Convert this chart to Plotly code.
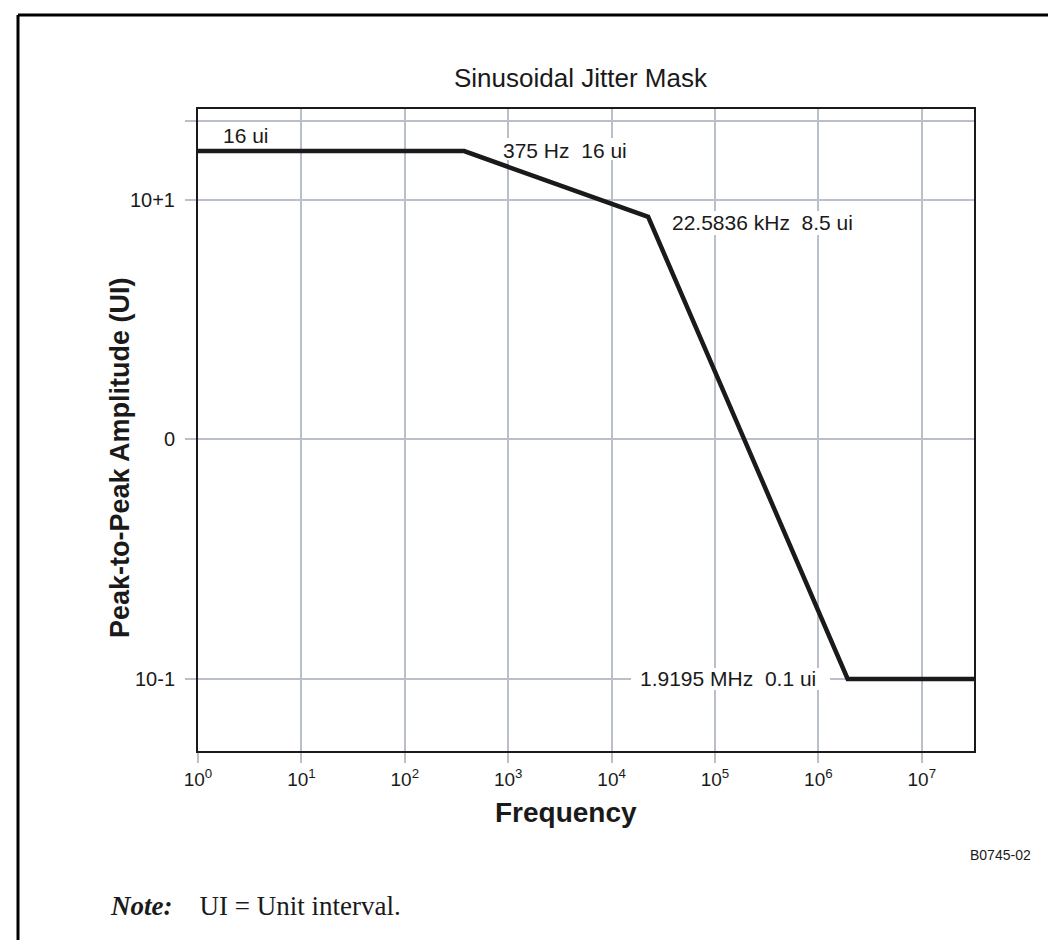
import math
import plotly.graph_objects as go

# ---- data ----
freq_hz = [1, 375, 22583.6, 1919500, 3.2e7]
amplitude_ui = [16, 16, 8.5, 0.1, 0.1]

x_tick_vals = [1, 10, 100, 1e3, 1e4, 1e5, 1e6, 1e7]
x_tick_text = ["10<sup>0</sup>", "10<sup>1</sup>", "10<sup>2</sup>", "10<sup>3</sup>",
               "10<sup>4</sup>", "10<sup>5</sup>", "10<sup>6</sup>", "10<sup>7</sup>"]
y_tick_vals = [0.1, 1, 10, 21.4]
y_tick_text = ["10-1", "0", "10+1", ""]

point_labels = ["16 ui", "375 Hz\u00a0\u00a016 ui", "22.5836 kHz\u00a0\u00a08.5 ui", "1.9195 MHz\u00a0\u00a00.1 ui"]
label_freq = [1, 375, 22583.6, 1919500]
label_amp = [16, 16, 8.5, 0.1]

FONT = "Liberation Sans, Arial, Helvetica, sans-serif"
GRID = "#b9c0c9"
INK = "#1a1a1a"

# plot-area geometry in pixels (used for page-level placements)
L, R, T, B = 190, 966, 101, 743
W, H = R - L, B - T


def px_x(px):
    return (px - L) / W


def px_y(py):
    return (B - py) / H


fig = go.Figure()
fig.add_trace(go.Scatter(
    x=freq_hz, y=amplitude_ui, mode="lines",
    line=dict(color=INK, width=4.5), hoverinfo="skip", showlegend=False,
))

# label placement: text offset (px) from its anchor point, and a white box
# (page pixels x0, x1, y0, y1) that masks the gridlines behind the text
ann_style = [
    dict(xanchor="left", xshift=23, yshift=16, box=None),
    dict(xanchor="left", xshift=37, yshift=1, box=(490, 624, 130, 152)),
    dict(xanchor="left", xshift=22, yshift=-6, box=(655, 853, 203, 227)),
    dict(xanchor="right", xshift=-30, yshift=0, box=(623, 822, 660, 682)),
]
for txt, fx, ay, st in zip(point_labels, label_freq, label_amp, ann_style):
    if st["box"]:
        bx0, bx1, by0, by1 = st["box"]
        fig.add_shape(type="rect", layer="above", xref="paper", yref="paper",
                      x0=px_x(bx0), x1=px_x(bx1), y0=px_y(by1), y1=px_y(by0),
                      fillcolor="white", line=dict(width=0))
    fig.add_annotation(
        x=math.log10(fx), y=math.log10(ay), xref="x", yref="y", text=txt, showarrow=False,
        font=dict(family=FONT, size=21, color=INK), xanchor=st["xanchor"], yanchor="middle",
        xshift=st["xshift"], yshift=st["yshift"],
    )

# titles and page texts
fig.add_annotation(text="Sinusoidal Jitter Mask", xref="paper", yref="paper",
                   x=px_x(573), y=px_y(70), xanchor="center", yanchor="middle",
                   showarrow=False, font=dict(family=FONT, size=26, color=INK))
fig.add_annotation(text="<b>Frequency</b>", xref="paper", yref="paper",
                   x=px_x(558), y=px_y(805), xanchor="center", yanchor="middle",
                   showarrow=False, font=dict(family=FONT, size=28, color=INK))
fig.add_annotation(text="<b>Peak-to-Peak Amplitude (UI)</b>", xref="paper", yref="paper",
                   x=px_x(112), y=px_y(450), textangle=-90, xanchor="center", yanchor="middle",
                   showarrow=False, font=dict(family=FONT, size=27, color=INK))
fig.add_annotation(text="B0745-02", xref="paper", yref="paper",
                   x=px_x(1025), y=px_y(847), xanchor="right", yanchor="middle",
                   showarrow=False, font=dict(family=FONT, size=14, color=INK))
fig.add_annotation(text="<b><i>Note:</i></b>\u00a0\u00a0\u00a0\u00a0UI = Unit interval.", xref="paper", yref="paper",
                   x=px_x(100), y=px_y(898), xanchor="left", yanchor="middle",
                   showarrow=False, font=dict(family="Liberation Serif, Times New Roman, serif", size=27, color=INK))

# page frame (top and left edges)
fig.add_shape(type="line", xref="paper", yref="paper", x0=px_x(10), x1=px_x(1060), y0=px_y(7), y1=px_y(7),
              line=dict(color="black", width=3))
fig.add_shape(type="line", xref="paper", yref="paper", x0=px_x(10), x1=px_x(10), y0=px_y(7), y1=px_y(945),
              line=dict(color="black", width=3))

fig.update_layout(
    width=1056, height=940,
    margin=dict(l=L, r=1056 - R, t=T, b=940 - B),
    paper_bgcolor="white", plot_bgcolor="white",
    font=dict(family=FONT, color=INK),
    showlegend=False,
)
fig.update_xaxes(
    type="log", range=[0, 7.505],
    tickvals=x_tick_vals, ticktext=x_tick_text,
    tickfont=dict(family=FONT, size=19, color=INK),
    showgrid=True, gridcolor=GRID, gridwidth=1.5,
    ticks="outside", ticklen=10, tickcolor=GRID, tickwidth=1.5,
    showline=True, mirror=True, linecolor=INK, linewidth=2,
    zeroline=False, fixedrange=True,
)
fig.update_yaxes(
    type="log", range=[-1.301, 1.380],
    tickvals=y_tick_vals, ticktext=y_tick_text,
    tickfont=dict(family=FONT, size=20, color=INK),
    showgrid=True, gridcolor=GRID, gridwidth=1.5,
    ticks="outside", ticklen=11, tickcolor=GRID, tickwidth=1.5,
    ticklabelstandoff=6,
    showline=True, mirror=True, linecolor=INK, linewidth=2,
    zeroline=False, fixedrange=True,
)

fig.write_html("out.html")
